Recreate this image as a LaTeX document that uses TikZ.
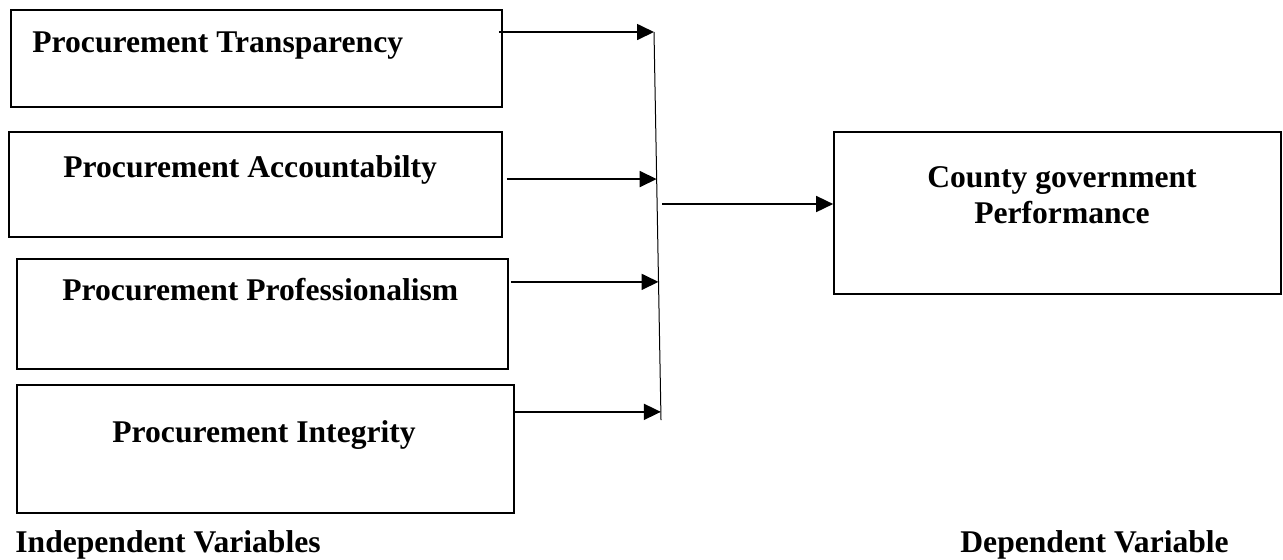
\documentclass[tikz,border=0pt]{standalone}
\usepackage{fontspec}
\setmainfont{Liberation Serif}
\usetikzlibrary{arrows.meta, positioning, calc}
\tikzset{
    varbox/.style={draw, line width=0.85pt, inner sep=0pt},
    vartext/.style={font=\bfseries\fontsize{15.8}{18}\selectfont, inner sep=0pt},
    link/.style={line width=0.85pt, -{Triangle[length=8.5pt, width=8pt]}},
}

\begin{document}
\begin{tikzpicture}[x=0.5pt, y=-0.5pt]
    \useasboundingbox (0,0) rectangle (1283,559);

    % independent variables
    \node[varbox, minimum width=245.5pt, minimum height=48.5pt] (iv1) at (256.5,58.5) {};
    \node[varbox, minimum width=246.5pt, minimum height=52.5pt] (iv2) at (255.5,184.5) {};
    \node[varbox, minimum width=245.5pt, minimum height=55pt] (iv3) at (262.5,314) {};
    \node[varbox, minimum width=248.5pt, minimum height=64pt] (iv4) at (265.5,449) {};

    \node[vartext, anchor=base west] (lt1) at (32,52) {Procurement Transparency};
    \node[vartext, anchor=base west] (lt2) at (63,177) {Procurement Accountabilty};
    \node[vartext, anchor=base west] (lt3) at (62,300) {Procurement Professionalism};
    \node[vartext, anchor=base west] (lt4) at (112,442) {Procurement Integrity};

    % dependent variable
    \node[varbox, minimum width=223.5pt, minimum height=81pt] (dv) at (1057.5,213) {};
    \node[vartext, anchor=base, align=center] (ldv) at (1062,223) {County government\\Performance};

    \node[vartext, anchor=base west] (liv) at (15,552) {Independent Variables};
    \node[vartext, anchor=base west] (ldep) at (960,552) {Dependent Variable};

    % junction bar
    \coordinate (jtop) at (654,32);
    \coordinate (jbot) at (661,420);
    \coordinate (j2) at ($(jtop)!0.379!(jbot)$);
    \coordinate (j3) at ($(jtop)!0.644!(jbot)$);
    \coordinate (j4) at ($(jtop)!0.979!(jbot)$);
    \coordinate (jout) at (662,204);
    \draw[line width=0.5pt] (jtop) -- (jbot);

    \draw[link] ([xshift=-2pt]iv1.east |- jtop) -- (jtop);
    \draw[link] ([xshift=2pt]iv2.east |- j2) -- (j2);
    \draw[link] ([xshift=1pt]iv3.east |- j3) -- (j3);
    \draw[link] (iv4.east |- j4) -- (j4);
    \draw[link] (jout) -- (dv.west |- jout);
\end{tikzpicture}
\end{document}
